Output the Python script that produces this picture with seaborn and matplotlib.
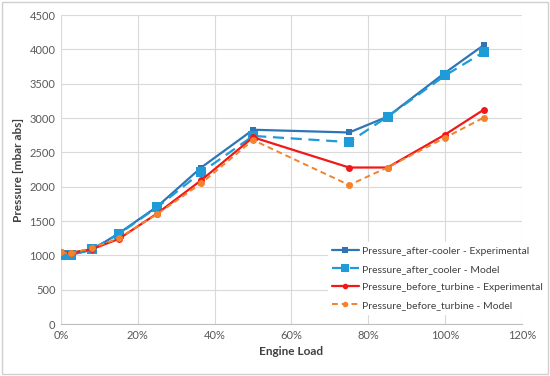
import seaborn as sns
import matplotlib.pyplot as plt
from matplotlib.patches import Rectangle
from matplotlib.ticker import PercentFormatter

load = [0.0, 0.025, 0.08, 0.15, 0.25, 0.365, 0.50, 0.75, 0.85, 1.00, 1.10]
after_cooler_exp = [990, 1010, 1080, 1320, 1710, 2280, 2830, 2790, 3020, 3660, 4060]
after_cooler_model = [1000, 1000, 1090, 1310, 1700, 2210, 2740, 2650, 3020, 3620, 3960]
before_turbine_exp = [1055, 1040, 1090, 1240, 1610, 2095, 2720, 2280, 2280, 2760, 3120]
before_turbine_model = [1045, 1030, 1105, 1250, 1600, 2050, 2680, 2025, 2280, 2715, 3005]

sns.set_style("white")
plt.rcParams['font.family'] = ['Lato', 'DejaVu Sans']

fig, ax = plt.subplots(figsize=(5.5, 3.76), dpi=100)
fig.subplots_adjust(left=0.111, right=0.949, top=0.960, bottom=0.138)

sns.lineplot(x=load, y=after_cooler_exp, ax=ax, color="#2E75B6", lw=1.6,
             marker="s", markersize=5, markeredgewidth=0,
             label="Pressure_after-cooler - Experimental")
sns.lineplot(x=load, y=after_cooler_model, ax=ax, color="#1F9BD7", lw=1.6,
             linestyle=(0, (5, 3)), marker="s", markersize=6.5, markeredgewidth=0,
             label="Pressure_after_cooler - Model")
sns.lineplot(x=load, y=before_turbine_exp, ax=ax, color="#F01818", lw=1.6,
             marker="o", markersize=5, markeredgewidth=0,
             label="Pressure_before_turbine - Experimental")
sns.lineplot(x=load, y=before_turbine_model, ax=ax, color="#F4812C", lw=1.4,
             linestyle=(0, (3, 2)), marker="o", markersize=5, markeredgewidth=0,
             label="Pressure_before_turbine - Model")

ax.set_xlim(0, 1.2)
ax.set_ylim(0, 4500)
ax.set_xticks([0, 0.2, 0.4, 0.6, 0.8, 1.0, 1.2])
ax.set_yticks(range(0, 4501, 500))
ax.xaxis.set_major_formatter(PercentFormatter(1.0, decimals=0))
ax.grid(True, color="#D9D9D9", lw=0.8)
for s in ["top", "right", "left"]:
    ax.spines[s].set_visible(False)
ax.spines["bottom"].set_color("#BFBFBF")
ax.tick_params(axis="both", labelsize=8, colors="#595959", length=0, pad=4)

ax.set_xlabel("Engine Load", fontsize=8.5, fontweight="bold", color="#404040")
ax.set_ylabel("Pressure [mbar abs]", fontsize=8.5, fontweight="bold", color="#404040")

leg = ax.legend(loc="lower right", bbox_to_anchor=(1.066, 0.015), fontsize=7.5,
                frameon=True, framealpha=1, edgecolor="white", handlelength=2.6,
                handletextpad=0.3, labelspacing=0.85, labelcolor="#404040",
                markerscale=0.8)

fig.patches.append(Rectangle((0.004, 0.005), 0.992, 0.99, transform=fig.transFigure,
                             fill=False, edgecolor="#D0D0D0", lw=1))

fig.savefig("out.png", dpi=100)
